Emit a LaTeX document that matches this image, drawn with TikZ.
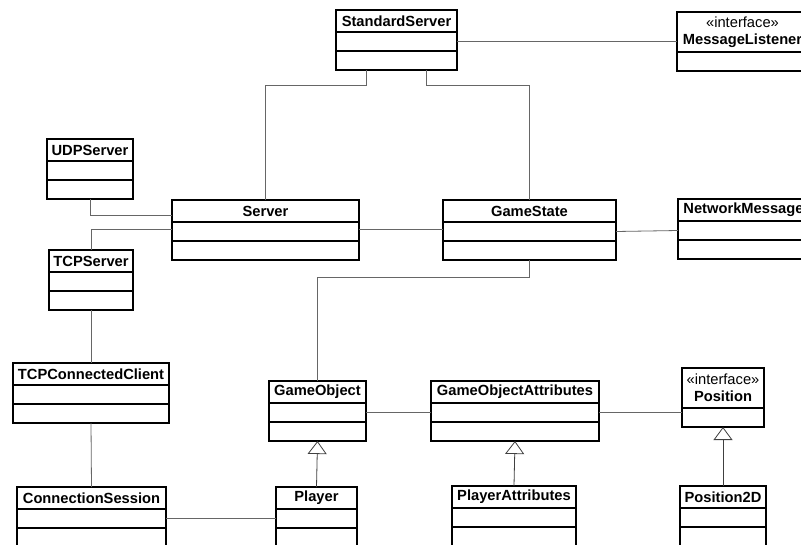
\documentclass[tikz,border=0pt]{standalone}
\usepackage{fontspec}
\setmainfont{Liberation Sans}
\usetikzlibrary{positioning}
\usetikzlibrary{arrows.meta}

\tikzset{
  classname/.style={draw, line width=1.2pt, outer sep=0pt, inner sep=0pt,
    font=\fontsize{14.7}{17}\selectfont\bfseries, minimum height=22pt, anchor=north west},
  ifacename/.style={classname, minimum height=40pt, align=center},
  compartment/.style={draw, line width=1.2pt, outer sep=0pt, inner sep=0pt, minimum height=19pt},
  assoc/.style={draw=black!60, line width=0.8pt},
  inherit/.style={assoc, -{Triangle[open, length=13pt, width=19pt]}, draw=black!75}
}

% class box: name, top left corner, width, title
\newcommand{\umlclass}[4]{%
  \node[classname, minimum width=#3] (#1) at #2 {#4};
  \node[compartment, minimum width=#3, below=0pt of #1] (#1-a) {};
  \node[compartment, minimum width=#3, below=0pt of #1-a] (#1-o) {};
}
% interface box: stereotype over the name, one compartment
\newcommand{\umliface}[4]{%
  \node[ifacename, minimum width=#3] (#1) at #2 {{\mdseries\guillemotleft interface\guillemotright}\\#4};
  \node[compartment, minimum width=#3, below=0pt of #1] (#1-a) {};
}

\begin{document}
\begin{tikzpicture}[x=1pt, y=-1pt]
\useasboundingbox (0,0) rectangle (801,544);
\fill[white] (0,0) rectangle (801,544);
\clip (0,0) rectangle (801,544);

\umlclass{stdserver}{(336,10)}{121pt}{StandardServer}
\umliface{msglistener}{(677,12)}{131pt}{MessageListener}
\umlclass{udpserver}{(47,139)}{86pt}{UDPServer}
\umlclass{server}{(172,200)}{187pt}{Server}
\umlclass{gamestate}{(443,200)}{173pt}{GameState}
\umlclass{netmsg}{(678,199)}{131pt}{NetworkMessage}
\umlclass{tcpserver}{(49,250)}{84pt}{TCPServer}
\umlclass{tcpclient}{(13,363)}{156pt}{TCPConnectedClient}
\umlclass{gameobject}{(269,381)}{97pt}{GameObject}
\umlclass{goattr}{(431,381)}{168pt}{GameObjectAttributes}
\umliface{position}{(682,368)}{82pt}{Position}
\umlclass{session}{(17,487)}{149pt}{ConnectionSession}
\umlclass{player}{(276,487)}{81pt}{Player}
\umlclass{plattr}{(452,486)}{124pt}{PlayerAttributes}
\umlclass{pos2d}{(680,486)}{86pt}{Position2D}

% associations
\draw[assoc] ([xshift=-30pt]stdserver-o.south) -- ++(0,15) -| (server.north);
\draw[assoc] ([xshift=30pt]stdserver-o.south) -- ++(0,15) -| (gamestate.north);
\draw[assoc] (stdserver-a.east) -- (stdserver-a.east -| msglistener.west);
\draw[assoc] (udpserver-o.south) |- ([yshift=-4pt]server.west);
\draw[assoc] ([yshift=2pt]server-a.west) -| (tcpserver.north);
\draw[assoc] ([yshift=2pt]server-a.east) -- ([yshift=2pt]server-a.east -| gamestate-a.west);
\draw[assoc] (gamestate-a.east) -- (netmsg-a.west);
\draw[assoc] (gamestate-o.south) -- ++(0,17) -| (gameobject.north);
\draw[assoc] (tcpserver-o.south) -- (tcpclient.north);
\draw[assoc] (tcpclient-o.south) -- (session.north);
\draw[assoc] (session-a.east) -- (player-a.west);
\draw[assoc] (gameobject-a.east) -- (goattr-a.west);
\draw[assoc] (goattr-a.east) -- (goattr-a.east -| position-a.west);

% generalisations
\draw[inherit] (player.north) -- (gameobject-o.south);
\draw[inherit] (plattr.north) -- (goattr-o.south);
\draw[inherit] (pos2d.north) -- (position-a.south);

\end{tikzpicture}
\end{document}
